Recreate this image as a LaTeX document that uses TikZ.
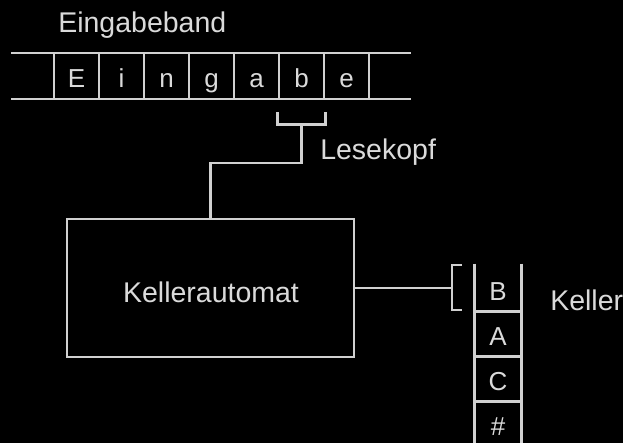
\documentclass[tikz,border=0pt]{standalone}
\usepackage{fontspec}
\setmainfont{Liberation Sans}
\usetikzlibrary{calc}
\begin{document}
\begin{tikzpicture}[x=1pt,y=-1pt,
  line width=2.6pt,
  wire/.style={draw=linegray},
  label/.style={text=textgray,font=\fontsize{28.5}{28.5}\selectfont,inner sep=0pt},
  letter/.style={text=textgray,font=\fontsize{26}{26}\selectfont,inner sep=0pt,anchor=base},
  cell/.style={draw=linegray,minimum width=45pt,minimum height=46pt,inner sep=0pt},
  stackcell/.style={minimum width=44pt,minimum height=45pt,inner sep=0pt}]
\definecolor{linegray}{RGB}{208,208,208}
\definecolor{textgray}{RGB}{218,218,218}
\fill[black] (0,0) rectangle (623,443);
\useasboundingbox (0,0) rectangle (623,443);

% input tape
\node[label,anchor=base west] (bandlabel) at (57,33) {Eingabeband};
\foreach \ch [count=\i] in {E,i,n,g,a,b,e}{
  \node[cell] (c\i) at ({54+45*(\i-0.5)},76) {};
  \node[letter] (l\i) at ($(c\i.center)+(0,12)$) {\ch};
}
\coordinate (tl) at (11,53);
\coordinate (tr) at (411,53);
\coordinate (bl) at (11,99);
\coordinate (br) at (411,99);
\draw[wire] (tl) -- (tr);
\draw[wire] (bl) -- (br);

% read head under the cell "b"
\coordinate (hc) at ($(c6.south)+(0,24)$);
\draw[wire] ($(c6.south west)+(0,12)$) |- (hc) -| ($(c6.south east)+(0,12)$);
\node[label,anchor=base west] (headlabel) at (319,160) {Lesekopf};

% control unit
\node[draw=linegray,minimum width=287pt,minimum height=138pt,inner sep=0pt] (pda) at (210.5,288) {};
\node[label,anchor=base] (pdalabel) at (211,302) {Kellerautomat};
\coordinate (bend) at (210.5,163);
\draw[wire] (hc) -- (hc |- bend) -- (bend) -- (pda.north -| bend);

% stack
\foreach \ch [count=\i] in {B,A,C,\#}{
  \node[stackcell] (s\i) at (498,{265+45*(\i-0.5)}) {};
  \node[letter] (k\i) at ($(s\i.center)+(0,13)$) {\ch};
}
\draw[wire] (s1.north west) -- (s4.south west);
\draw[wire] (s1.north east) -- (s4.south east);
\foreach \i in {1,2,3,4}
  \draw[wire] (s\i.south west) -- (s\i.south east);
\node[label,anchor=base west] (stacklabel) at (549,310) {Keller};

% stack access bracket
\coordinate (sb) at (452,288);
\draw[wire] (462,265) -- (452,265) -- (452,310) -- (462,310);
\draw[wire] (pda.east) -- (sb);
\end{tikzpicture}
\end{document}
